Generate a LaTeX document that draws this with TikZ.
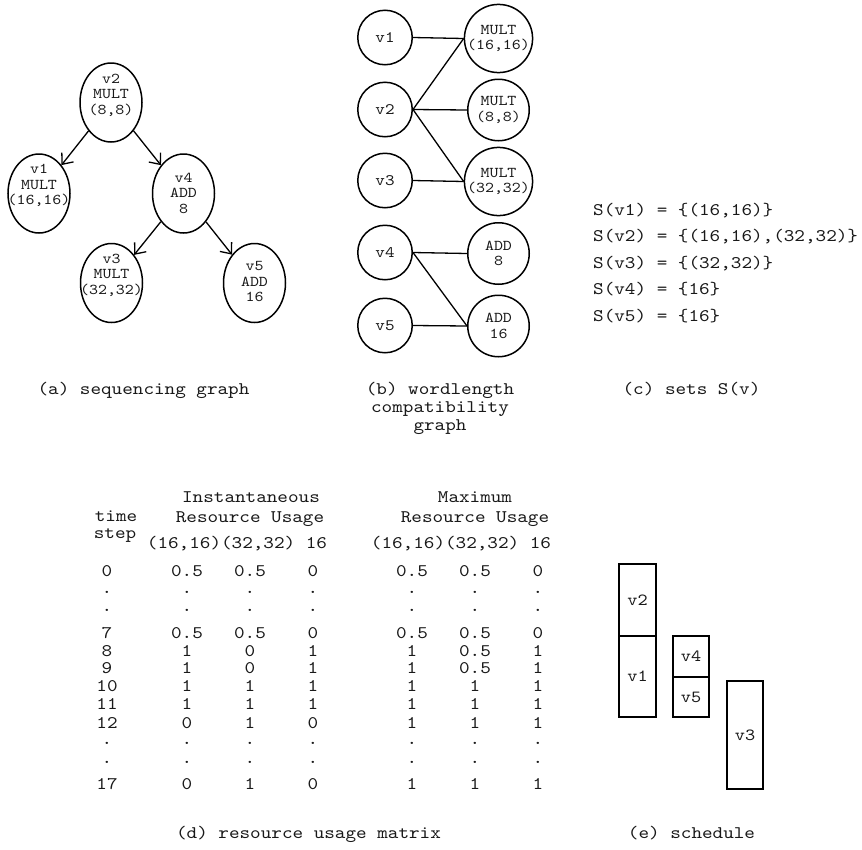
\documentclass[tikz,border=0pt]{standalone}
\usepackage{fontspec}
\setmainfont{lmmono10-regular.otf}[FakeStretch=1.14]
\usetikzlibrary{arrows.meta,shapes.geometric}
\begin{document}
\begin{tikzpicture}[x=1pt,y=-1pt,
  txt/.style={text=black!90},
  nfont/.style={font=\fontsize{15}{15.5}\selectfont},
  bigfont/.style={font=\fontsize{17.7}{18}\selectfont},
  ell/.style={draw, line width=1.5pt, ellipse, minimum width=62pt, minimum height=79pt, inner sep=0pt},
  lbl/.style={txt, nfont, align=center, inner sep=0pt},
  lc/.style={draw, line width=1.5pt, circle, minimum size=54.5pt, inner sep=0pt, txt, font=\fontsize{16}{16}\selectfont},
  rc/.style={draw, line width=1.5pt, circle, minimum size=61.5pt, inner sep=0pt, txt, nfont, align=center},
  arr/.style={line width=1.3pt, -{Straight Barb[length=9pt,width=15pt]}},
  link/.style={line width=1.3pt},
  cell/.style={txt, bigfont, anchor=base, inner sep=0pt},
  sbox/.style={draw, line width=1.3pt, inner sep=0pt, txt, font=\fontsize{17}{17}\selectfont},
]
\fill[white] (0,0) rectangle (862,849);
\useasboundingbox (0,0) rectangle (862,849);

% (a) sequencing graph
\node[ell] (v2) at (111,102.5) {};
\node[ell] (v1) at (39,193.5) {};
\node[ell] (v4) at (183.5,193.5) {};
\node[ell] (v3) at (111.5,283) {};
\node[ell] (v5) at (254.5,283) {};
\node[lbl] (v2t) at (111,95) {v2\\MULT\\(8,8)};
\node[lbl] (v1t) at (39,185.5) {v1\\MULT\\(16,16)};
\node[lbl] (v4t) at (183.5,193) {v4\\ADD\\8};
\node[lbl] (v3t) at (111.5,275) {v3\\MULT\\(32,32)};
\node[lbl] (v5t) at (254.5,281.5) {v5\\ADD\\16};
\draw[arr] (v2) -- (v1);
\draw[arr] (v2) -- (v4);
\draw[arr] (v4) -- (v3);
\draw[arr] (v4) -- (v5);

% (b) wordlength compatibility graph
\node[lc] (a1) at (385,37.5) {v1};
\node[lc] (a2) at (385,109.5) {v2};
\node[lc] (a3) at (385,180.5) {v3};
\node[lc] (a4) at (385,252.5) {v4};
\node[lc] (a5) at (385,325.5) {v5};
\node[rc] (b1) at (498.5,38.5) {MULT\\(16,16)};
\node[rc] (b2) at (498.5,110) {MULT\\(8,8)};
\node[rc] (b3) at (498.5,181.5) {MULT\\(32,32)};
\node[rc] (b4) at (498.5,253.5) {ADD\\8};
\node[rc] (b5) at (498.5,326) {ADD\\16};
\draw[link] (a1.east) -- (b1.west);
\draw[link] (a2.east) -- (b1.west);
\draw[link] (a2.east) -- (b2.west);
\draw[link] (a2.east) -- (b3.west);
\draw[link] (a3.east) -- (b3.west);
\draw[link] (a4.east) -- (b4.west);
\draw[link] (a4.east) -- (b5.west);
\draw[link] (a5.east) -- (b5.west);

% (c) sets
\node[cell, anchor=base west] (s1) at (593,215) {S(v1) = \{(16,16)\}};
\node[cell, anchor=base west] (s2) at (593,241.5) {S(v2) = \{(16,16),(32,32)\}};
\node[cell, anchor=base west] (s3) at (593,268) {S(v3) = \{(32,32)\}};
\node[cell, anchor=base west] (s4) at (593,294.5) {S(v4) = \{16\}};
\node[cell, anchor=base west] (s5) at (593,321) {S(v5) = \{16\}};

% captions a, b, c
\node[cell] (capa) at (143.5,394) {(a) sequencing graph};
\node[cell] (capb1) at (440,394) {(b) wordlength};
\node[cell] (capb2) at (440,412) {compatibility};
\node[cell] (capb3) at (440,430) {graph};
\node[cell] (capc) at (691.5,394) {(c) sets S(v)};

% (d) resource usage matrix
\node[cell] (h1) at (251,502) {Instantaneous};
\node[cell] (h2) at (475,502) {Maximum};
\node[cell] (h3) at (116,521) {time};
\node[cell] (h4) at (250,522) {Resource Usage};
\node[cell] (h5) at (475,522) {Resource Usage};
\node[cell] (h6) at (115,538) {step};
\node[cell] (h7) at (237,548) {(16,16)(32,32) 16};
\node[cell] (h8) at (461,548) {(16,16)(32,32) 16};
\foreach \mY/\mT/\mA/\mB/\mC/\mD/\mE/\mF [count=\i] in {
  576/0/0.5/0.5/0/0.5/0.5/0,
  593/./././././././.,
  611/./././././././.,
  638/7/0.5/0.5/0/0.5/0.5/0,
  656/8/1/0/1/1/0.5/1,
  673/9/1/0/1/1/0.5/1,
  691/10/1/1/1/1/1/1,
  709/11/1/1/1/1/1/1,
  728/12/0/1/0/1/1/1,
  744/./././././././.,
  763/./././././././.,
  789/17/0/1/0/1/1/1}{
  \node[cell] (m\i t) at (107,\mY) {\mT};
  \node[cell] (m\i a) at (187,\mY) {\mA};
  \node[cell] (m\i b) at (250,\mY) {\mB};
  \node[cell] (m\i c) at (313,\mY) {\mC};
  \node[cell] (m\i d) at (412,\mY) {\mD};
  \node[cell] (m\i e) at (475,\mY) {\mE};
  \node[cell] (m\i f) at (538,\mY) {\mF};
}

% (e) schedule
\node[sbox, minimum width=37pt, minimum height=72pt] (e2) at (637.5,600) {v2};
\node[sbox, minimum width=37pt, minimum height=81pt] (e1) at (637.5,676.5) {v1};
\node[sbox, minimum width=36pt, minimum height=41pt] (e4) at (691,656.5) {v4};
\node[sbox, minimum width=36pt, minimum height=40pt] (e5) at (691,697) {v5};
\node[sbox, minimum width=36pt, minimum height=108pt] (e3) at (745,735) {v3};

% captions d, e
\node[cell] (capd) at (308.5,838) {(d) resource usage matrix};
\node[cell] (cape) at (691.5,838) {(e) schedule};
\end{tikzpicture}
\end{document}
